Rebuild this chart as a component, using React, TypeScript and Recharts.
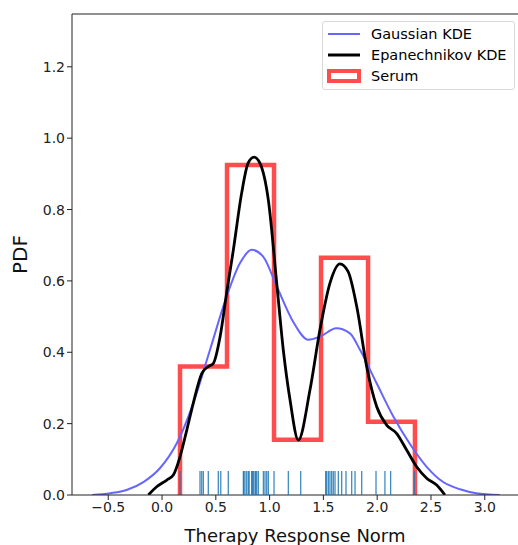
import React from "react";
import {
  ComposedChart,
  Line,
  Scatter,
  XAxis,
  YAxis,
  ReferenceLine,
  Label,
} from "recharts";

// values
const gaussX = [-0.65, -0.48, -0.33, -0.17, -0.02, 0.137, 0.29, 0.446, 0.6, 0.725, 0.834, 0.94, 1.066, 1.22, 1.36, 1.47, 1.62, 1.747, 1.84, 1.995, 2.15, 2.3, 2.46, 2.61, 2.77, 2.92, 3.14];
const gaussY = [0, 0.005, 0.014, 0.037, 0.075, 0.145, 0.257, 0.407, 0.556, 0.65, 0.687, 0.668, 0.585, 0.485, 0.435, 0.444, 0.467, 0.453, 0.407, 0.313, 0.22, 0.145, 0.079, 0.037, 0.016, 0.005, 0];

const epaX = [-0.127, -0.05, 0.044, 0.105, 0.167, 0.23, 0.29, 0.37, 0.43, 0.477, 0.54, 0.6, 0.663, 0.74, 0.8, 0.855, 0.91, 0.988, 1.066, 1.127, 1.19, 1.267, 1.375, 1.468, 1.561, 1.654, 1.73, 1.81, 1.902, 1.995, 2.088, 2.18, 2.274, 2.367, 2.46, 2.553, 2.63];
const epaY = [0, 0.023, 0.042, 0.056, 0.107, 0.182, 0.257, 0.341, 0.36, 0.369, 0.444, 0.565, 0.687, 0.846, 0.93, 0.947, 0.93, 0.827, 0.594, 0.407, 0.266, 0.154, 0.294, 0.463, 0.594, 0.648, 0.626, 0.528, 0.36, 0.248, 0.196, 0.173, 0.126, 0.079, 0.047, 0.028, 0];

const binEdges = [0.167, 0.604, 1.041, 1.478, 1.915, 2.351];
const binHeights = [0.36, 0.925, 0.155, 0.665, 0.205];

const rugValues = [
  0.167, 0.353, 0.369, 0.384, 0.43, 0.523, 0.546,
  0.616, 0.756, 0.76, 0.771, 0.787, 0.802, 0.81, 0.833, 0.84, 0.849, 0.864, 0.87, 0.88, 0.895, 0.942, 0.957, 0.973, 0.988,
  1.041, 1.174, 1.289,
  1.521, 1.53, 1.546, 1.561, 1.577, 1.592, 1.608, 1.639, 1.67, 1.71, 1.763, 1.794, 1.856,
  1.989, 2.072, 2.125, 2.345,
];

const xTicks = [-0.5, 0, 0.5, 1.0, 1.5, 2.0, 2.5, 3.0];
const yTicks = [0, 0.2, 0.4, 0.6, 0.8, 1.0, 1.2];

const gaussData = gaussX.map((x, i) => ({ x, y: gaussY[i] }));
const epaData = epaX.map((x, i) => ({ x, y: epaY[i] }));
const histData = [
  { x: binEdges[0], y: 0 },
  ...binHeights.map((h, i) => ({ x: binEdges[i], y: h })),
  { x: binEdges[binEdges.length - 1], y: 0 },
];
const rugData = rugValues.map((x) => ({ x, y: 0 }));

const FONT = "'DejaVu Sans', sans-serif";
const BLUE = "#6666ff";
const RED = "#ff4d4d";

const fmt = (v: number) => (v < 0 ? "\u2212" + Math.abs(v).toFixed(1) : v.toFixed(1));

function RugTick(props: any) {
  const { cx, cy } = props;
  return (
    <line x1={cx} x2={cx} y1={cy} y2={cy - 24} stroke="#1f77b4" strokeWidth={1.3} strokeOpacity={0.85} />
  );
}

function LegendBox() {
  const row = { display: "flex", alignItems: "center", height: 21 } as const;
  return (
    <div
      style={{
        position: "absolute",
        left: 322,
        top: 21,
        width: 193,
        height: 69,
        boxSizing: "border-box",
        border: "1px solid #d9d9d9",
        borderRadius: 3,
        background: "rgba(255,255,255,0.85)",
        padding: "1px 0 0 4px",
        fontFamily: FONT,
        fontSize: 14.5,
        color: "#000",
        whiteSpace: "nowrap",
      }}
    >
      <div style={row}>
        <svg width={34} height={12} style={{ marginRight: 10 }}>
          <line x1={1} x2={33} y1={6} y2={6} stroke={BLUE} strokeWidth={2} />
        </svg>
        Gaussian KDE
      </div>
      <div style={row}>
        <svg width={34} height={12} style={{ marginRight: 10 }}>
          <line x1={1} x2={33} y1={6} y2={6} stroke="#000" strokeWidth={3} />
        </svg>
        Epanechnikov KDE
      </div>
      <div style={row}>
        <svg width={34} height={14} style={{ marginRight: 10 }}>
          <rect x={2} y={2} width={30} height={10} fill="none" stroke={RED} strokeWidth={4} />
        </svg>
        Serum
      </div>
    </div>
  );
}

export default function App() {
  return (
    <div style={{ position: "absolute", left: 0, top: 0, width: 518, height: 545, background: "#fff" }}>
      <ComposedChart width={518} height={545} margin={{ top: 14, right: 0, bottom: 0, left: 0 }}>
        <XAxis
          dataKey="x"
          type="number"
          domain={[-0.837, 3.309]}
          ticks={xTicks}
          tickFormatter={fmt}
          allowDataOverflow
          height={50}
          stroke="#222"
          tickSize={5}
          tick={{ fontSize: 14, fill: "#222", fontFamily: FONT }}
        >
          <Label value="Therapy Response Norm" position="center" dy={16} style={{ fontSize: 18, fill: "#111", fontFamily: FONT }} />
        </XAxis>
        <YAxis
          dataKey="y"
          type="number"
          domain={[0, 1.348]}
          ticks={yTicks}
          tickFormatter={(v: number) => v.toFixed(1)}
          allowDataOverflow
          width={72}
          stroke="#222"
          tickSize={5}
          tick={{ fontSize: 14, fill: "#222", fontFamily: FONT }}
        >
          <Label value="PDF" angle={-90} position="center" dx={-16} style={{ fontSize: 20, fill: "#111", fontFamily: FONT }} />
        </YAxis>
        <ReferenceLine y={1.348} stroke="#222" strokeWidth={1} ifOverflow="visible" />
        <Line
          data={histData}
          dataKey="y"
          type="stepAfter"
          stroke={RED}
          strokeWidth={4.5}
          dot={false}
          isAnimationActive={false}
        />
        <Line
          data={gaussData}
          dataKey="y"
          type="monotone"
          stroke={BLUE}
          strokeWidth={2}
          dot={false}
          isAnimationActive={false}
        />
        <Line
          data={epaData}
          dataKey="y"
          type="monotone"
          stroke="#000"
          strokeWidth={2.8}
          dot={false}
          isAnimationActive={false}
        />
        <Scatter data={rugData} dataKey="y" shape={<RugTick />} isAnimationActive={false} />
      </ComposedChart>
      <LegendBox />
    </div>
  );
}
